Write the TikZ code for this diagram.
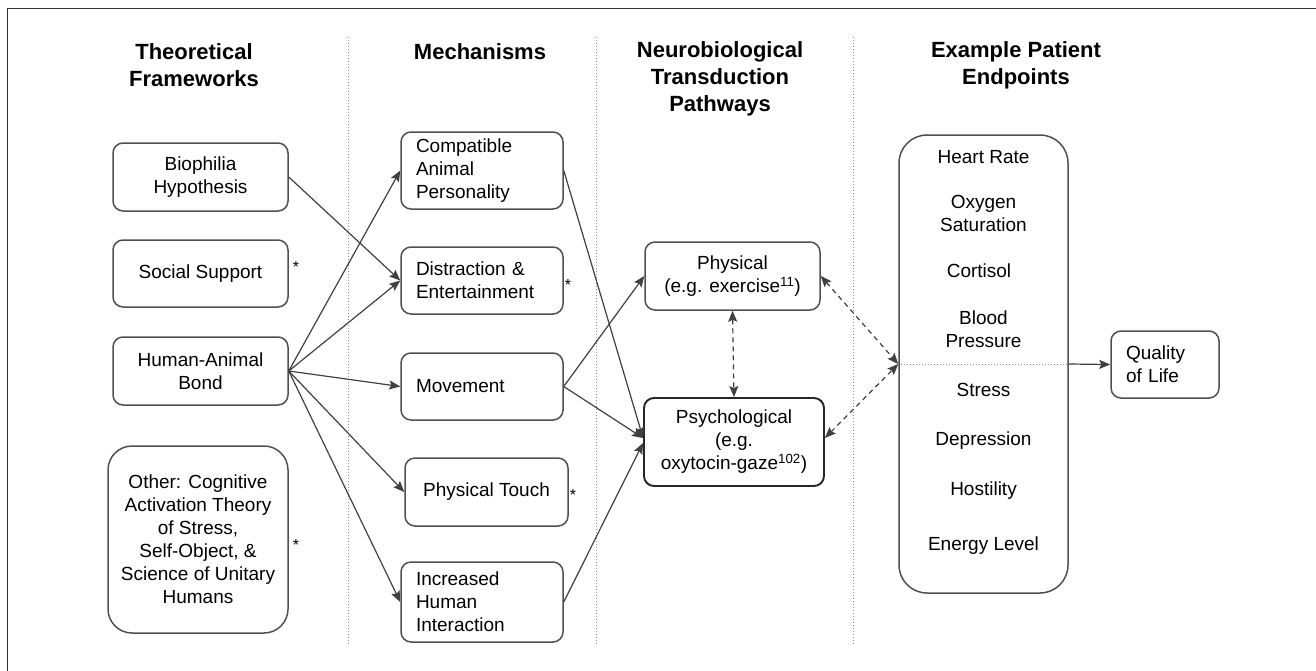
\documentclass[tikz,border=0pt]{standalone}
\usepackage{fontspec}
\setmainfont{Liberation Sans}
\usetikzlibrary{arrows.meta}
\definecolor{linec}{HTML}{404040}
\definecolor{boxc}{HTML}{505050}
\definecolor{framec}{HTML}{333333}
\definecolor{divc}{HTML}{888888}
\newcommand{\bodyfont}{\fontsize{19}{23}\selectfont}
\newcommand{\headfont}{\bfseries\fontsize{22}{27}\selectfont}
\tikzset{
  head/.style={font=\headfont, align=center, inner sep=0pt},
  box/.style={draw=boxc, line width=1.5pt, rounded corners=10pt, font=\bodyfont, align=center, inner sep=0pt},
  lbox/.style={box, align=left, text width=#1, inner xsep=15pt},
  bigbox/.style={box, rounded corners=24pt},
  etext/.style={font=\bodyfont, align=center, inner sep=0pt},
  star/.style={font=\fontsize{16}{16}\selectfont, inner sep=0pt},
  divider/.style={draw=divc, line width=1pt, dotted},
  tip/.tip={Stealth[length=11pt,width=9pt,inset=2pt]},
  conn/.style={draw=linec, line width=1.2pt, -tip},
  dconn/.style={draw=linec, line width=1.2pt, dash pattern=on 5pt off 4pt, tip-tip},
}
\begin{document}
\begin{tikzpicture}[x=1pt,y=-1pt]
\useasboundingbox (0,0) rectangle (1316,670);
\clip (0,0) rectangle (1316,670);
\draw[framec, line width=1.5pt] (7.5,8.5) rectangle (1340,700);

% headings
\node[head] (h1) at (194,65.5) {Theoretical\\Frameworks};
\node[head] (h2) at (480,52) {Mechanisms};
\node[head] (h3) at (720,79) {Neurobiological\\Transduction\\Pathways};
\node[head] (h4) at (1016,65.5) {Example Patient\\Endpoints};

% dividers
\draw[divider] (348,37) -- (348,645);
\draw[divider] (596,37) -- (596,645);
\draw[divider] (853,37) -- (853,645);

% theoretical frameworks
\node[box, minimum width=175pt, minimum height=68pt] (bio) at (200.5,177) {Biophilia\\Hypothesis};
\node[box, minimum width=175pt, minimum height=67pt] (soc) at (200.5,273.5) {Social Support};
\node[box, minimum width=175pt, minimum height=68pt] (hab) at (200.5,371) {Human-Animal\\Bond};
\node[bigbox, minimum width=180pt, minimum height=187pt] (oth) at (198,539.5) {Other: Cognitive\\Activation Theory\\of Stress,\\Self-Object, \&\\Science of Unitary\\Humans};

% mechanisms
\node[lbox=132pt, minimum width=162pt, minimum height=77pt] (comp) at (482,170.5) {Compatible\\Animal\\Personality};
\node[lbox=132pt, minimum width=162pt, minimum height=67pt] (dist) at (482,280.5) {Distraction \&\\Entertainment};
\node[lbox=132pt, minimum width=162pt, minimum height=67pt] (mov) at (482,386.5) {Movement};
\node[box, minimum width=163pt, minimum height=68pt] (touch) at (486.5,492) {Physical Touch};
\node[lbox=132pt, minimum width=162pt, minimum height=80pt] (incr) at (482,602) {Increased\\Human\\Interaction};

% asterisks
\node[star] (s1) at (296,267) {*};
\node[star] (s2) at (568,285) {*};
\node[star] (s3) at (573,495) {*};
\node[star] (s4) at (296,545) {*};

% pathways
\node[box, minimum width=175pt, minimum height=68pt] (phys) at (732.5,276) {Physical\\(e.g. exercise\textsuperscript{11})};
\node[box, draw=black!85, line width=1.9pt, minimum width=180pt, minimum height=88pt] (psych) at (734,442) {Psychological\\(e.g.\\oxytocin-gaze\textsuperscript{102})};

% endpoints
\node[box, rounded corners=28pt, minimum width=169pt, minimum height=458pt] (endp) at (983.5,364) {};
\node[etext] (e1) at (983.5,157) {Heart Rate};
\node[etext] (e2) at (983.5,213) {Oxygen\\Saturation};
\node[etext] (e3) at (979,271) {Cortisol};
\node[etext] (e4) at (983.5,329) {Blood\\Pressure};
\node[etext] (e5) at (983.5,390) {Stress};
\node[etext] (e6) at (983.5,441) {Depression};
\node[etext] (e7) at (983.5,491) {Hostility};
\node[etext] (e8) at (983.5,546) {Energy Level};
\draw[divider] (endp.west) -- (endp.east);

\node[lbox=78pt, minimum width=108pt, minimum height=67pt] (qol) at (1165,364.5) {Quality\\of Life};

% connectors
\draw[conn] (bio.east) -- (dist.west);
\draw[conn] (hab.east) -- (comp.west);
\draw[conn] (hab.east) -- (dist.west);
\draw[conn] (hab.east) -- (mov.west);
\draw[conn] (hab.east) -- (touch.west);
\draw[conn] (hab.east) -- (incr.west);
\draw[conn] (comp.east) -- ([yshift=4pt]psych.west);
\draw[conn] (mov.east) -- (phys.west);
\draw[conn] (mov.east) -- ([yshift=4pt]psych.west);
\draw[conn] (incr.east) -- ([yshift=-1pt]psych.west);
\draw[dconn] (phys.south) -- (psych.north);
\draw[dconn] (phys.east) -- (endp.west);
\draw[dconn] ([yshift=4pt]psych.east) -- (endp.west);
\draw[conn] (endp.east) -- (qol.west);
\end{tikzpicture}
\end{document}
